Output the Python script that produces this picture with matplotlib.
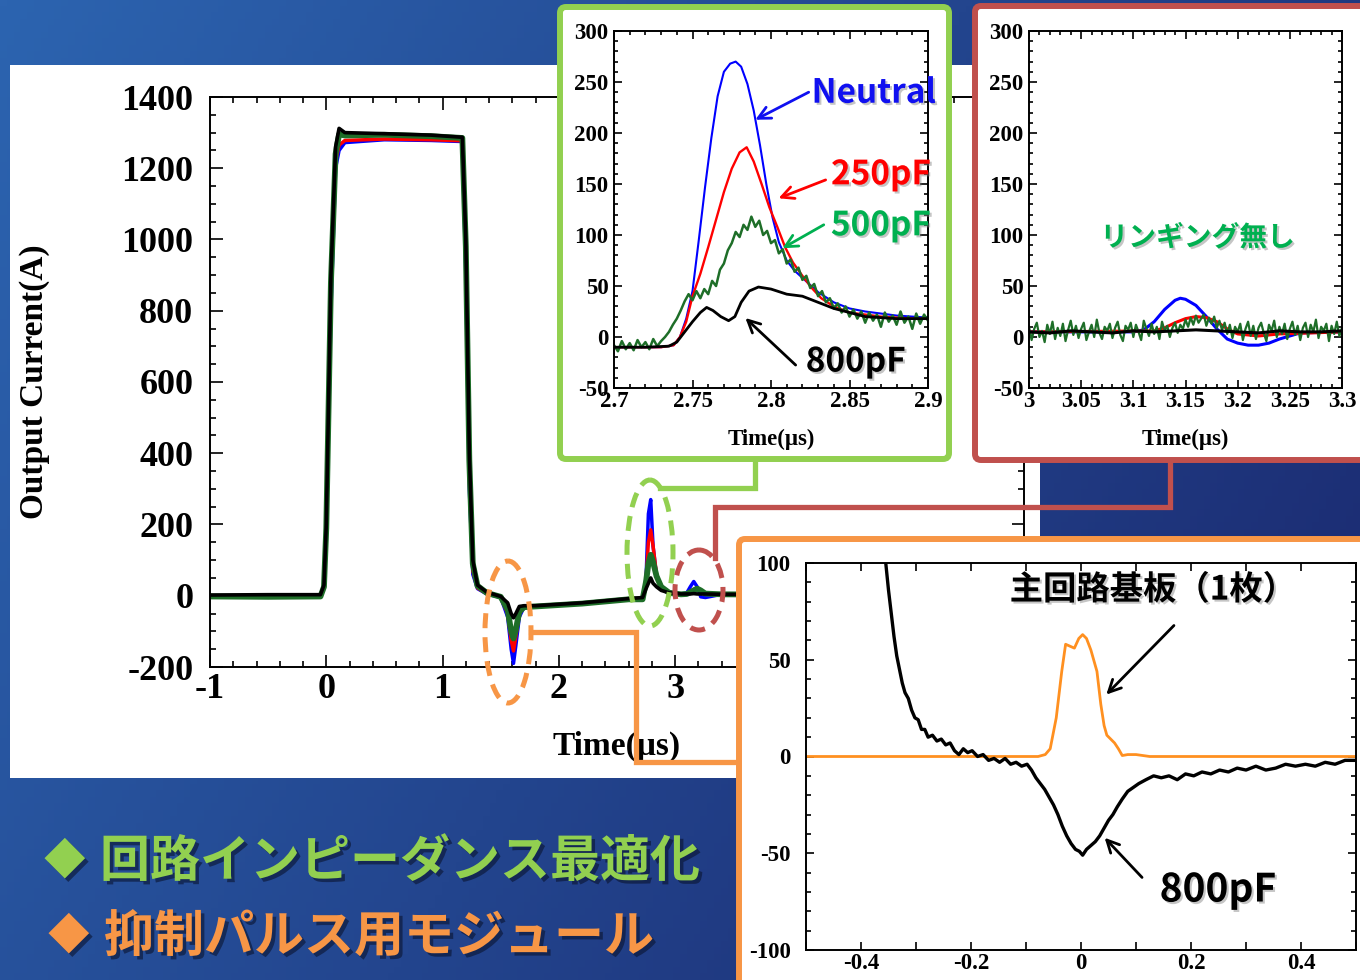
import numpy as np
import matplotlib
matplotlib.use('Agg')
import matplotlib.pyplot as plt
import matplotlib.patheffects as pe
from matplotlib.patches import Ellipse, FancyBboxPatch, Rectangle
from matplotlib.ticker import MultipleLocator, FuncFormatter

plt.rcParams['font.family'] = ['Liberation Serif', 'DejaVu Sans']
plt.rcParams['font.weight'] = 'bold'
plt.rcParams['axes.labelweight'] = 'bold'
plt.rcParams['axes.unicode_minus'] = False
JP = ['Noto Sans CJK JP', 'DejaVu Sans']

# ---- main waveform (time in us, current in A) ----
main_t = [-1.0, -0.5, -0.05, -0.02, 0.0, 0.04, 0.08, 0.11, 0.16, 0.5,
          0.9, 1.17, 1.2, 1.23, 1.26, 1.3, 1.38, 1.5, 1.56, 1.59,
          1.61, 1.63, 1.66, 1.7, 1.8, 2.2, 2.6, 2.72, 2.75, 2.77,
          2.79, 2.81, 2.84, 2.88, 2.95, 3.05, 3.1, 3.13, 3.16, 3.19,
          3.22, 3.26, 3.4, 4.0, 5.0, 6.0]
main_neutral = [0, 0, 0, 20, 150, 800, 1200, 1250, 1272, 1280,
                1278, 1275, 900, 300, 60, 20, 5, -5, -60, -150,
                -190, -140, -60, -32, -30, -22, -10, -8, 50, 230,
                270, 140, 55, 25, 10, 5, 8, 25, 40, 25,
                -3, -5, 4, 3, 2, 2]
main_250 = [0, 0, 0, 25, 170, 850, 1220, 1265, 1278, 1282,
            1280, 1277, 950, 330, 70, 22, 6, -4, -50, -125,
            -155, -115, -50, -30, -29, -21, -9, -7, 45, 150,
            185, 140, 60, 25, 10, 5, 6, 12, 18, 20,
            12, 5, 4, 3, 2, 2]
main_500 = [-2, -3, -2, 25, 190, 880, 1240, 1295, 1292, 1294,
            1290, 1285, 980, 380, 90, 28, 8, -3, -40, -100,
            -120, -95, -45, -32, -30, -22, -10, -10, 40, 90,
            115, 95, 55, 25, 8, 4, 5, 10, 15, 20,
            15, 6, 4, 3, 1, 1]
main_800 = [2, 3, 3, 30, 200, 900, 1260, 1312, 1300, 1297,
            1293, 1287, 1000, 400, 100, 30, 10, -2, -20, -50,
            -62, -50, -30, -28, -28, -20, -8, -5, 20, 35,
            50, 35, 25, 15, 8, 5, 5, 5, 6, 5,
            5, 5, 4, 3, 2, 2]

# ---- zoom 2.7-2.9 us ----
z1_neu_t = [2.70, 2.73, 2.738, 2.742, 2.746, 2.750, 2.754, 2.758, 2.762, 2.766,
            2.770, 2.774, 2.7775, 2.781, 2.785, 2.789, 2.793, 2.797, 2.801, 2.805,
            2.810, 2.815, 2.820, 2.830, 2.840, 2.850, 2.860, 2.870, 2.880, 2.890, 2.900]
z1_neu = [-10, -10, -8, 0, 18, 45, 95, 147, 195, 236,
          260, 268, 270, 265, 248, 222, 188, 150, 117, 93,
          75, 65, 58, 44, 34, 28, 25, 23, 21, 20, 19]
z1_250_t = [2.70, 2.73, 2.738, 2.742, 2.746, 2.750, 2.755, 2.760, 2.765, 2.770,
            2.775, 2.780, 2.7845, 2.789, 2.794, 2.799, 2.804, 2.809, 2.814, 2.820,
            2.826, 2.832, 2.840, 2.850, 2.860, 2.870, 2.880, 2.890, 2.900]
z1_250 = [-10, -10, -8, 0, 15, 40, 62, 88, 115, 142,
          165, 181, 186, 172, 150, 127, 108, 88, 73, 60,
          48, 38, 30, 24, 22, 20, 19, 18, 18]
z1_500_t = [2.7000, 2.7025, 2.7050, 2.7075, 2.7100, 2.7125, 2.7150, 2.7175, 2.7200, 2.7225,
            2.7250, 2.7275, 2.7300, 2.7325, 2.7350, 2.7375, 2.7400, 2.7425, 2.7450, 2.7475,
            2.7500, 2.7525, 2.7550, 2.7575, 2.7600, 2.7625, 2.7650, 2.7675, 2.7700, 2.7725,
            2.7750, 2.7775, 2.7800, 2.7825, 2.7850, 2.7875, 2.7900, 2.7925, 2.7950, 2.7975,
            2.8000, 2.8025, 2.8050, 2.8075, 2.8100, 2.8125, 2.8150, 2.8175, 2.8200, 2.8225,
            2.8250, 2.8275, 2.8300, 2.8325, 2.8350, 2.8375, 2.8400, 2.8425, 2.8450, 2.8475,
            2.8500, 2.8525, 2.8550, 2.8575, 2.8600, 2.8625, 2.8650, 2.8675, 2.8700, 2.8725,
            2.8750, 2.8775, 2.8800, 2.8825, 2.8850, 2.8875, 2.8900, 2.8925, 2.8950, 2.8975,
            2.9000]
z1_500 = [-8, -14, -4, -12, -6, -13, -3, -10, -5, -12,
          -2, -9, -4, 0, 5, 12, 18, 26, 35, 42,
          36, 45, 38, 47, 42, 55, 50, 66, 72, 85,
          92, 103, 98, 110, 105, 118, 108, 114, 100, 104,
          92, 95, 82, 86, 72, 76, 64, 68, 56, 60,
          48, 52, 40, 45, 34, 38, 28, 33, 24, 30,
          20, 27, 18, 25, 14, 24, 16, 22, 10, 24,
          15, 21, 12, 25, 14, 20, 8, 23, 13, 22,
          16]
z1_800_t = [2.70, 2.72, 2.735, 2.74, 2.745, 2.75, 2.755, 2.759, 2.763, 2.768,
            2.773, 2.777, 2.781, 2.786, 2.792, 2.80, 2.81, 2.82, 2.83, 2.84,
            2.85, 2.86, 2.87, 2.88, 2.89, 2.90]
z1_800 = [-10, -10, -9, -5, 5, 15, 24, 29, 26, 20,
          16, 20, 34, 45, 49, 47, 42, 40, 34, 28,
          24, 20, 19, 18, 18, 18]

# ---- zoom 3.0-3.3 us ----
z2_neu_t = [3.0, 3.1, 3.11, 3.12, 3.13, 3.14, 3.145, 3.15, 3.16, 3.17,
            3.18, 3.19, 3.2, 3.21, 3.22, 3.23, 3.24, 3.26, 3.3]
z2_neu = [5, 5, 7, 15, 27, 36, 38, 37, 31, 20,
          8, -2, -6, -8, -8, -6, -2, 4, 5]
z2_250_t = [3.0, 3.12, 3.13, 3.14, 3.15, 3.16, 3.17, 3.18, 3.19, 3.2, 3.22, 3.24, 3.3]
z2_250 = [5, 6, 9, 14, 18, 20, 19, 15, 8, 3, 1, 3, 5]
z2_500_t = [3.000 + 0.0025 * i for i in range(121)]
z2_500 = [10, -3, 8, 14, 0, 6, -5, 12, 3, 15, -2, 9, 1, 13, -4, 7, 16, 2, 11, -1,
          8, 14, -3, 5, 12, 0, 17, 4, -2, 10, 6, 13, -1, 9, 15, 2, -4, 11, 7, 14,
          0, 12, 5, -3, 16, 8, 1, 13, 3, 10, -2, 15, 6, 11, 0, 9, 14, 4, 12, 8,
          17, 10, 19, 12, 21, 14, 18, 22, 11, 19, 13, 20, 9, 16, 7, 14, 3, 12, -1, 10,
          5, 13, -3, 8, 15, 1, 11, -2, 9, 14, 4, -4, 12, 6, 16, 0, 10, 3, 13, -2,
          8, 15, 2, 11, -3, 9, 14, 0, 12, 5, 17, -1, 10, 6, 13, -4, 11, 3, 15, 1, 9]
z2_800_t = [3.0 + 0.02 * i for i in range(16)]
z2_800 = [5, 4, 6, 5, 4, 6, 5, 6, 7, 6, 5, 4, 6, 5, 5, 6]

# ---- suppression pulse module (-0.5..0.5) ----
z3_main_t = [-0.5, -0.1, -0.078, -0.065, -0.056, -0.045, -0.035, -0.028, -0.02, -0.012,
             -0.004, 0.003, 0.01, 0.018, 0.024, 0.029, 0.036, 0.042, 0.047, 0.054,
             0.061, 0.068, 0.075, 0.085, 0.1, 0.125, 0.2, 0.5]
z3_main = [0, 0, 0, 1, 4, 20, 44, 58, 57, 56,
           61, 63, 61, 55, 49, 44, 27, 16, 11, 9,
           7, 4, 0.5, 1, 1, 0, 0, 0]
z3_800_t = [-0.360, -0.355, -0.350, -0.345, -0.340, -0.335, -0.330, -0.325, -0.320, -0.314,
            -0.308, -0.302, -0.296, -0.290, -0.284, -0.278, -0.270, -0.262, -0.254, -0.246,
            -0.238, -0.230, -0.222, -0.214, -0.206, -0.198, -0.188, -0.178, -0.168, -0.158,
            -0.148, -0.138, -0.128, -0.118, -0.108, -0.098, -0.090, -0.082, -0.074, -0.066,
            -0.058, -0.050, -0.042, -0.034, -0.026, -0.018, -0.010, -0.003, 0.003, 0.010,
            0.018, 0.026, 0.034, 0.042, 0.050, 0.058, 0.066, 0.075, 0.085, 0.095,
            0.105, 0.118, 0.132, 0.146, 0.160, 0.175, 0.190, 0.205, 0.220, 0.236,
            0.252, 0.268, 0.284, 0.300, 0.318, 0.336, 0.354, 0.372, 0.390, 0.408,
            0.426, 0.444, 0.462, 0.480, 0.500]
z3_800 = [118, 100, 86, 74, 62, 52, 45, 38, 33, 30,
          24, 20, 19, 14, 14, 10, 11, 8, 9, 6,
          7, 3, 1, 4, 2, 3, 0, 1, -2, -1,
          -3, -1, -4, -3, -5, -4, -7, -11, -14, -17,
          -21, -25, -30, -36, -41, -45, -48, -49, -51, -48,
          -46, -44, -41, -37, -33, -30, -26, -22, -18, -16,
          -14, -12, -10, -11, -10, -12, -9, -10, -8, -9,
          -7, -8, -6, -7, -5, -7, -6, -4, -5, -4,
          -5, -3, -4, -2, -2]

C_BLUE, C_RED, C_GREEN, C_BLACK = '#0000ff', '#ff0000', '#1e6e28', 'black'
C_BOX_G, C_BOX_R, C_BOX_O = '#92d050', '#c0504d', '#f79646'

W, H = 1360, 980
fig = plt.figure(figsize=(13.6, 9.8), dpi=100)


def px_rect(x0, y0, x1, y1):
    return [x0 / W, 1 - y1 / H, (x1 - x0) / W, (y1 - y0) / H]


def g_fmt(v, _):
    return '0' if abs(v) < 1e-9 else f'{v:g}'


def style(a, xmaj, xmin, ymaj, ymin, size, lmaj, lmin, xpad, ypad):
    a.xaxis.set_major_locator(MultipleLocator(xmaj))
    a.xaxis.set_minor_locator(MultipleLocator(xmin))
    a.yaxis.set_major_locator(MultipleLocator(ymaj))
    a.yaxis.set_minor_locator(MultipleLocator(ymin))
    a.xaxis.set_major_formatter(FuncFormatter(g_fmt))
    a.tick_params(which='both', direction='in', top=True, right=True, width=1.2,
                  labelsize=size)
    a.tick_params(which='major', length=lmaj)
    a.tick_params(which='minor', length=lmin)
    a.tick_params(axis='x', pad=xpad)
    a.tick_params(axis='y', pad=ypad)
    for s in a.spines.values():
        s.set_linewidth(1.4)


# background
bg = fig.add_axes([0, 0, 1, 1], zorder=0)
xx, yy = np.meshgrid(np.linspace(0, 1, 200), np.linspace(0, 1, 150))
u = 0.7 * xx + 0.3 * yy
c0 = np.array([44, 100, 176]) / 255
c1 = np.array([26, 38, 108]) / 255
bg.imshow(c0 + (c1 - c0) * u[..., None], extent=[0, W, H, 0], aspect='auto')
bg.set_xlim(0, W); bg.set_ylim(H, 0); bg.axis('off')
bg.add_patch(Rectangle((10, 65), 1030, 713, fc='white', ec='none'))

# main plot
ax = fig.add_axes(px_rect(210, 97, 1024, 667), zorder=1)
ax.plot(main_t, main_neutral, color=C_BLUE, lw=2.5)
ax.plot(main_t, main_250, color=C_RED, lw=2.5)
ax.plot(main_t, main_500, color=C_GREEN, lw=4.2)
ax.plot(main_t, main_800, color=C_BLACK, lw=2.6)
ax.set_xlim(-1, 6); ax.set_ylim(-200, 1400)
style(ax, 1, 0.2, 200, 50, 26, 9, 4.5, 4, 12)
ax.set_ylabel('Output Current(A)', fontsize=24)
ax.yaxis.set_label_coords(-0.197, 0.5)
ax.set_xlabel('Time(\u03bcs)', fontsize=24)
ax.xaxis.set_label_coords(0.5, -0.112)

# overlay: ellipses, connectors, inset frames, captions
ov = fig.add_axes([0, 0, 1, 1], zorder=2)
ov.set_xlim(0, W); ov.set_ylim(H, 0); ov.axis('off')
ov.patch.set_alpha(0)
dash = (0, (3, 1.8))
ov.add_patch(Ellipse((508, 632), 46, 142, fill=False, ec=C_BOX_O, lw=3.6, ls=dash))
ov.add_patch(Ellipse((650, 553), 46, 146, fill=False, ec=C_BOX_G, lw=3.6, ls=dash))
ov.add_patch(Ellipse((699, 590), 48, 80, fill=False, ec=C_BOX_R, lw=3.6, ls=dash))
ov.plot([660, 755, 755], [488, 488, 460], color=C_BOX_G, lw=3.8, solid_joinstyle='miter')
ov.plot([715, 715, 1170, 1170], [558, 507, 507, 460], color=C_BOX_R, lw=3.8,
        solid_joinstyle='miter')
ov.plot([531, 636, 636, 739], [632, 632, 762, 762], color=C_BOX_O, lw=3.8,
        solid_joinstyle='miter')
for (x0, y0, w, h), c in [((560, 7, 389, 452), C_BOX_G),
                          ((975, 6, 391, 454), C_BOX_R),
                          ((739, 539, 627, 447), C_BOX_O)]:
    ov.add_patch(FancyBboxPatch((x0, y0), w, h, boxstyle='round,pad=0,rounding_size=6',
                                fc='white', ec=c, lw=4.3, zorder=5))

shadow = [pe.withSimplePatchShadow(offset=(2.5, -2.5), shadow_rgbFace='#0a1430', alpha=0.6)]
for (x, y), mark, line, col in [((44, 862), '\u25c6', '回路インピーダンス最適化', C_BOX_G),
                                ((48, 937), '\u25c6', '抑制パルス用モジュール', C_BOX_O)]:
    ov.text(x, y, mark, color=col, fontsize=30, family=JP, ha='left', va='center',
            path_effects=shadow)
    ov.text(x + 56, y, line, color=col, fontsize=36, family=JP, weight='bold',
            ha='left', va='center', path_effects=shadow)

soft = [pe.withSimplePatchShadow(offset=(1.5, -1.5), shadow_rgbFace='gray', alpha=0.45)]

# inset 1: 2.7-2.9 us
g = fig.add_axes(px_rect(614, 31, 928, 388), zorder=3)
g.plot(z1_neu_t, z1_neu, color=C_BLUE, lw=1.5)
g.plot(z1_250_t, z1_250, color=C_RED, lw=1.7)
g.plot(z1_500_t, z1_500, color=C_GREEN, lw=1.8)
g.plot(z1_800_t, z1_800, color=C_BLACK, lw=2.0)
g.set_xlim(2.7, 2.9); g.set_ylim(-50, 300)
style(g, 0.05, 0.01, 50, 10, 16.5, 6, 3, 2, 4)
g.set_xlabel('Time(\u03bcs)', fontsize=16.5)
g.xaxis.set_label_coords(0.5, -0.115)
for txt, (tx, ty), tail, head, col in [
        ('Neutral', (2.8655, 239), (2.824, 240), (2.790, 213), '#1010f0'),
        ('250pF', (2.870, 159), (2.8348, 154), (2.8048, 136), '#ff0000'),
        ('500pF', (2.870, 109), (2.8336, 110), (2.8073, 87), '#00b050'),
        ('800pF', (2.854, -24.5), (2.8157, -27.5), (2.7837, 18.6), 'black')]:
    g.annotate('', xy=head, xytext=tail, annotation_clip=False,
               arrowprops=dict(arrowstyle='->', color=col, lw=2, mutation_scale=22,
                               shrinkA=0, shrinkB=0))
    g.text(tx, ty, txt, color=col, fontsize=24, family=JP, weight='bold',
           ha='center', va='center', clip_on=False, path_effects=soft)

# inset 2: 3.0-3.3 us
r = fig.add_axes(px_rect(1029, 31, 1342, 388), zorder=3)
r.plot(z2_neu_t, z2_neu, color=C_BLUE, lw=2.2)
r.plot(z2_250_t, z2_250, color=C_RED, lw=2.2)
r.plot(z2_500_t, z2_500, color=C_GREEN, lw=1.6)
r.plot(z2_800_t, z2_800, color=C_BLACK, lw=2.2)
r.set_xlim(3.0, 3.3); r.set_ylim(-50, 300)
style(r, 0.05, 0.01, 50, 10, 16.5, 6, 3, 2, 4)
r.set_xlabel('Time(\u03bcs)', fontsize=16.5)
r.xaxis.set_label_coords(0.5, -0.115)
r.text(3.1615, 97, 'リンギング無し', color='#00b050', fontsize=20, family=JP,
       weight='bold', ha='center', va='center', path_effects=soft)

# inset 3: suppression pulse module
o = fig.add_axes(px_rect(806, 563, 1356, 950), zorder=3)
o.plot(z3_main_t, z3_main, color='#ff9020', lw=2.0)
o.plot(z3_800_t, z3_800, color=C_BLACK, lw=2.4)
o.set_xlim(-0.5, 0.5); o.set_ylim(-100, 100)
style(o, 0.2, 0.1, 50, 10, 16.5, 6, 6, 2, 11)
o.tick_params(which='minor', axis='y', length=3.5)
o.text(0.131, 86, '主回路基板（1枚）', color='black', fontsize=24, family=JP,
       weight='bold', ha='center', va='center', path_effects=soft)
o.annotate('', xy=(0.046, 32), xytext=(0.169, 67.7),
           arrowprops=dict(arrowstyle='->', color='black', lw=2, mutation_scale=22,
                           shrinkA=0, shrinkB=0))
o.text(0.249, -69, '800pF', color='black', fontsize=28, family=JP, weight='bold',
       ha='center', va='center', path_effects=soft)
o.annotate('', xy=(0.043, -42), xytext=(0.111, -62.5),
           arrowprops=dict(arrowstyle='->', color='black', lw=2, mutation_scale=22,
                           shrinkA=0, shrinkB=0))

fig.savefig('out.png', dpi=100)
